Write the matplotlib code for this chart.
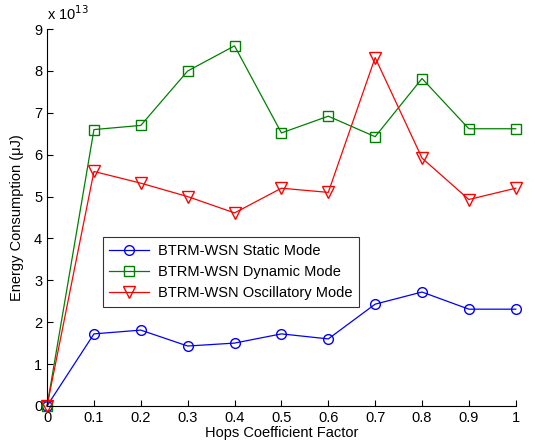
import matplotlib
matplotlib.use("Agg")
import matplotlib.pyplot as plt

plt.rcParams['font.family'] = ['Liberation Sans', 'DejaVu Sans']

# Hops coefficient factor (x) and energy consumption in units of 1e13 uJ
hops = [0, 0.1, 0.2, 0.3, 0.4, 0.5, 0.6, 0.7, 0.8, 0.9, 1.0]
static_mode = [0, 1.72, 1.81, 1.43, 1.50, 1.72, 1.60, 2.43, 2.72, 2.31, 2.31]
dynamic_mode = [0, 6.60, 6.70, 8.00, 8.60, 6.52, 6.92, 6.43, 7.82, 6.62, 6.62]
oscillatory_mode = [0, 5.60, 5.32, 5.00, 4.61, 5.20, 5.10, 8.32, 5.92, 4.93, 5.20]
xtick_labels = ['0', '0.1', '0.2', '0.3', '0.4', '0.5', '0.6', '0.7', '0.8', '0.9', '1']

fig = plt.figure(figsize=(5.35, 4.48), dpi=100)
ax = fig.add_axes([0.088, 0.094, 0.876, 0.841])

ax.plot(hops, static_mode, color='#0000ff', marker='o', markersize=7,
        markerfacecolor='none', linewidth=0.9, clip_on=False,
        label='BTRM-WSN Static Mode')
ax.plot(hops, dynamic_mode, color='#008000', marker='s', markersize=7,
        markerfacecolor='none', linewidth=0.9, clip_on=False,
        label='BTRM-WSN Dynamic Mode')
ax.plot(hops, oscillatory_mode, color='#ff0000', marker='v', markersize=8,
        markerfacecolor='none', linewidth=0.9, clip_on=False,
        label='BTRM-WSN Oscillatory Mode')

ax.set_xlim(0, 1)
ax.set_ylim(0, 9)
ax.set_xticks(hops)
ax.set_xticklabels(xtick_labels)
ax.set_yticks(range(10))

# MATLAB-like look: no top/right box, ticks inside
ax.spines['top'].set_visible(False)
ax.spines['right'].set_visible(False)
ax.tick_params(direction='in', length=4, labelsize=10.5, width=0.8)

ax.set_xlabel('Hops Coefficient Factor', fontsize=10.5, labelpad=1)
ax.set_ylabel('Energy Consumption (\u03bcJ)', fontsize=10.5, labelpad=7)
ax.text(0.0, 1.015, r'x 10$^{13}$', transform=ax.transAxes, fontsize=10.5,
        ha='left', va='bottom')

leg = ax.legend(loc='lower left', bbox_to_anchor=(0.119, 0.263), fontsize=10.5,
                frameon=True, fancybox=False, edgecolor='black',
                borderaxespad=0, handlelength=2.7, handletextpad=0.6,
                borderpad=0.45, labelspacing=0.5)
leg.get_frame().set_linewidth(0.8)

fig.savefig('out.png', dpi=100)
